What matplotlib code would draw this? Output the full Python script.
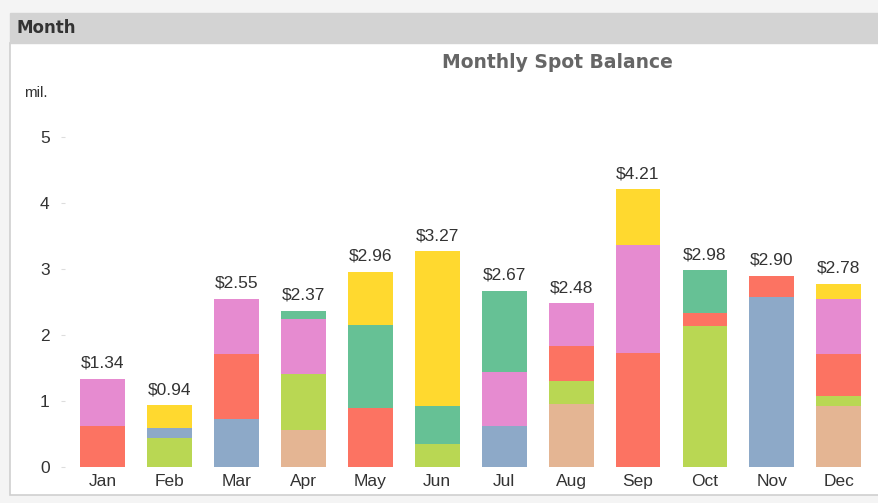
import numpy as np
import matplotlib.pyplot as plt
from matplotlib.patches import Rectangle

months = ['Jan', 'Feb', 'Mar', 'Apr', 'May', 'Jun', 'Jul', 'Aug', 'Sep', 'Oct', 'Nov', 'Dec']
totals = [1.34, 0.94, 2.55, 2.37, 2.96, 3.27, 2.67, 2.48, 4.21, 2.98, 2.90, 2.78]

# stacked segments, bottom to top, per month: (value, colour key)
segments = {
    'Jan': [(0.62, 'red'), (0.72, 'pink')],
    'Feb': [(0.44, 'lime'), (0.15, 'blue'), (0.35, 'yellow')],
    'Mar': [(0.73, 'blue'), (0.98, 'red'), (0.84, 'pink')],
    'Apr': [(0.56, 'tan'), (0.85, 'lime'), (0.83, 'pink'), (0.13, 'green')],
    'May': [(0.90, 'red'), (1.25, 'green'), (0.81, 'yellow')],
    'Jun': [(0.35, 'lime'), (0.58, 'green'), (2.34, 'yellow')],
    'Jul': [(0.62, 'blue'), (0.82, 'pink'), (1.23, 'green')],
    'Aug': [(0.95, 'tan'), (0.36, 'lime'), (0.52, 'red'), (0.65, 'pink')],
    'Sep': [(1.73, 'red'), (1.63, 'pink'), (0.85, 'yellow')],
    'Oct': [(2.13, 'lime'), (0.20, 'red'), (0.65, 'green')],
    'Nov': [(2.57, 'blue'), (0.33, 'red')],
    'Dec': [(0.92, 'tan'), (0.16, 'lime'), (0.63, 'red'), (0.83, 'pink'), (0.24, 'yellow')],
}

colors = {
    'red': '#FC7362',
    'pink': '#E68BD0',
    'yellow': '#FFD92F',
    'green': '#66C195',
    'lime': '#B9D753',
    'blue': '#8DA9C8',
    'tan': '#E4B593',
}

lbl_font = 'Liberation Sans'

fig = plt.figure(figsize=(8.79, 5.03), dpi=100)
fig.patch.set_facecolor('#F4F4F4')

# panel frame and header bar
W, H = 879, 503
fig.patches.append(Rectangle((10 / W, 1 - 495 / H), 869 / W, (495 - 43) / H,
                             transform=fig.transFigure, facecolor='white',
                             edgecolor='#CFCFCF', linewidth=1.2, zorder=-5))
fig.patches.append(Rectangle((10 / W, 1 - 43 / H), 869 / W, 30 / H,
                             transform=fig.transFigure, facecolor='#D3D3D3',
                             edgecolor='#D3D3D3', zorder=-5))
fig.text(17 / W, 1 - 28 / H, 'Month', fontsize=12, fontweight='bold',
         color='#333333', va='center', ha='left')

ax = fig.add_axes([65 / W, 1 - 467 / H, (875 - 65) / W, (467 - 117) / H])
ax.set_zorder(5)
ax.set_facecolor('none')

x = np.arange(len(months))
for i, m in enumerate(months):
    bottom = 0
    for val, key in segments[m]:
        ax.bar(i, val, bottom=bottom, width=0.67, color=colors[key], linewidth=0)
        bottom += val
    ax.text(i, totals[i] + 0.12, f'${totals[i]:.2f}', ha='center', va='bottom',
            fontsize=12.5, color='#333333', family=lbl_font)

ax.set_xlim(-0.56, 11.54)
ax.set_ylim(0, 350 / 66)
ax.set_yticks([0, 1, 2, 3, 4, 5])
ax.set_xticks(x)
ax.set_xticklabels(months, fontsize=12.5, color='#333333', family=lbl_font)
ax.set_yticklabels([str(v) for v in range(6)], family=lbl_font)
ax.tick_params(axis='y', labelsize=12.5, colors='#DDDDDD', labelcolor='#333333',
               length=3, pad=8)
ax.tick_params(axis='x', length=0, pad=5)
for s in ax.spines.values():
    s.set_visible(False)

fig.text(557 / W, 1 - 62 / H, 'Monthly Spot Balance', fontsize=13.5,
         fontweight='bold', color='#666666', ha='center', va='center')
fig.text(24 / W, 1 - 93 / H, 'mil.', fontsize=11, color='#333333',
         ha='left', va='center', family=lbl_font)

fig.savefig('out.png', dpi=100, facecolor=fig.get_facecolor())
